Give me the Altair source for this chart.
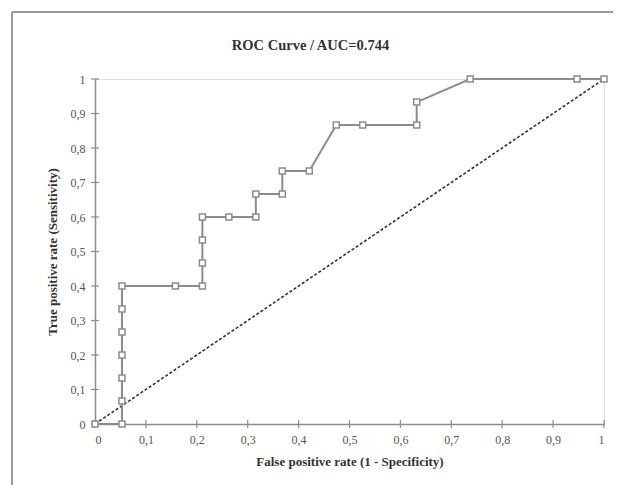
import altair as alt
import pandas as pd

# ROC curve points
fpr = [0.0, 0.053, 0.053, 0.053, 0.053, 0.053, 0.053, 0.053, 0.158, 0.211, 0.211, 0.211, 0.211,
       0.263, 0.316, 0.316, 0.368, 0.368, 0.421, 0.474, 0.526, 0.632, 0.632, 0.737, 0.947, 1.0]
tpr = [0.0, 0.0, 0.067, 0.133, 0.2, 0.267, 0.333, 0.4, 0.4, 0.4, 0.467, 0.533, 0.6,
       0.6, 0.6, 0.667, 0.667, 0.733, 0.733, 0.867, 0.867, 0.867, 0.933, 1.0, 1.0, 1.0]
diag_x = [0.0, 1.0]
diag_y = [0.0, 1.0]
tick_values = [0, 0.1, 0.2, 0.3, 0.4, 0.5, 0.6, 0.7, 0.8, 0.9, 1]

title_text = "ROC Curve / AUC=0.744"
x_title = "False positive rate (1 - Specificity)"
y_title = "True positive rate (Sensitivity)"

roc = pd.DataFrame({"fpr": fpr, "tpr": tpr, "idx": list(range(len(fpr)))})
diag = pd.DataFrame({"fpr": diag_x, "tpr": diag_y})
ticks = pd.DataFrame({"v": tick_values})

W, H = 509, 345
SERIF = "Liberation Serif"
GRAY = "#8c8c8c"
label_expr = "replace(format(datum.value, '~g'), '.', ',')"

xs = alt.Scale(domain=[0, 1], nice=False, zero=False)
ys = alt.Scale(domain=[0, 1], nice=False, zero=False)

xaxis = alt.Axis(values=tick_values, labelExpr=label_expr, title=x_title, grid=False,
                 ticks=False, domainColor=GRAY, domainWidth=1.5, labelFont=SERIF,
                 labelFontSize=12, labelColor="#555", labelPadding=10, labelOverlap=False,
                 titleFont=SERIF, titleFontSize=13, titleFontWeight="bold",
                 titleColor="#333", titlePadding=10)
yaxis = alt.Axis(values=tick_values, labelExpr=label_expr, title=y_title, grid=False,
                 ticks=False, domainColor=GRAY, domainWidth=1.5, labelFont=SERIF,
                 labelFontSize=12, labelColor="#555", labelPadding=10, labelOverlap=False,
                 labelBound=False, titleFont=SERIF, titleFontSize=13, titleFontWeight="bold",
                 titleColor="#333", titlePadding=11)

base_diag = alt.Chart(diag).mark_line(color="#333", strokeDash=[3, 2], strokeWidth=1.6).encode(
    x=alt.X("fpr:Q", scale=xs, axis=xaxis),
    y=alt.Y("tpr:Q", scale=ys, axis=yaxis),
)

curve = alt.Chart(roc).mark_line(color=GRAY, strokeWidth=2).encode(
    x=alt.X("fpr:Q", scale=xs, axis=xaxis),
    y=alt.Y("tpr:Q", scale=ys, axis=yaxis),
    order="idx:Q",
)

pts = alt.Chart(roc).mark_point(shape="square", filled=True, fill="white", stroke=GRAY,
                                strokeWidth=1.5, size=36, opacity=1).encode(
    x=alt.X("fpr:Q", scale=xs, axis=xaxis),
    y=alt.Y("tpr:Q", scale=ys, axis=yaxis),
)

# cross-style tick marks (Excel look)
xticks = alt.Chart(ticks).mark_rule(color=GRAY, strokeWidth=1.2).encode(
    x=alt.X("v:Q", scale=xs, axis=xaxis),
    y=alt.value(H - 4), y2=alt.value(H + 4),
)
yticks = alt.Chart(ticks).mark_rule(color=GRAY, strokeWidth=1.2).encode(
    y=alt.Y("v:Q", scale=ys, axis=yaxis),
    x=alt.value(-4), x2=alt.value(4),
)

frame_v = alt.Chart(ticks).mark_rule(color="#999", strokeWidth=2).encode(
    x=alt.value(-83), y=alt.value(-67), y2=alt.value(H + 80))
frame_h = alt.Chart(ticks).mark_rule(color="#999", strokeWidth=2).encode(
    x=alt.value(-83), x2=alt.value(W + 20), y=alt.value(-67))

title_mark = alt.Chart(ticks).transform_filter("datum.v == 0").mark_text(
    font=SERIF, fontSize=14.5, fontWeight="bold", color="#333", align="center",
    baseline="middle").encode(
    text=alt.value(title_text), x=alt.value(W / 2 - 39), y=alt.value(-33))

chart = alt.layer(frame_v, frame_h, base_diag, xticks, yticks, curve, pts, title_mark).properties(
    width=W, height=H,
    autosize=alt.AutoSizeParams(type="none"),
    padding={"left": 87, "top": 71, "right": 9, "bottom": 61},
).configure_view(stroke=GRAY, strokeWidth=1.5).configure(background="white"
).configure_axis(labelOverlap=False)

chart.save("out.html", embed_options={"renderer": "svg", "actions": False})
